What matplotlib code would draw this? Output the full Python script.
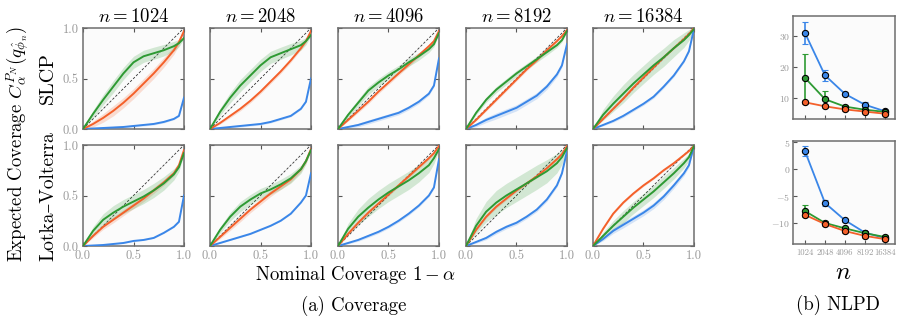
import numpy as np
import matplotlib
matplotlib.use("Agg")
import matplotlib.pyplot as plt

plt.rcParams['font.family'] = ['cmr10', 'DejaVu Serif']
plt.rcParams['mathtext.fontset'] = 'cm'
plt.rcParams['axes.formatter.use_mathtext'] = True
plt.rcParams['axes.unicode_minus'] = True

# ---------------- data ----------------
sizes = [1024, 2048, 4096, 8192, 16384]
size_labels = ["1024", "2048", "4096", "8192", "16384"]
rows = ["SLCP", "Lotka–Volterra"]
nominal = [0.0, 0.1, 0.2, 0.3, 0.4, 0.5, 0.6, 0.7, 0.8, 0.9, 0.95, 1.0]

# SLCP coverage curves (per n)
slcp_blue = [
    [0, .005, .01, .015, .02, .03, .04, .05, .07, .10, .13, .31],
    [0, .01, .02, .03, .04, .05, .07, .10, .13, .20, .27, .50],
    [0, .02, .04, .07, .10, .13, .16, .21, .27, .35, .43, .70],
    [0, .04, .09, .13, .17, .21, .27, .33, .42, .54, .63, .84],
    [0, .04, .08, .13, .19, .25, .32, .42, .53, .67, .77, .99],
]
slcp_orange = [
    [0, .05, .11, .18, .26, .35, .45, .55, .66, .78, .86, .97],
    [0, .06, .13, .20, .28, .37, .47, .57, .68, .80, .87, .97],
    [0, .09, .18, .27, .37, .46, .55, .64, .73, .82, .87, .97],
    [0, .09, .19, .29, .39, .49, .59, .68, .78, .87, .92, .98],
    [0, .10, .20, .30, .41, .51, .61, .71, .80, .89, .94, 1.0],
]
slcp_green = [
    [0, .15, .29, .42, .55, .66, .72, .75, .78, .82, .85, .90],
    [0, .17, .31, .43, .53, .63, .71, .75, .79, .83, .87, .93],
    [0, .14, .26, .38, .46, .53, .59, .66, .72, .79, .84, .95],
    [0, .16, .29, .39, .47, .55, .62, .69, .76, .83, .88, .97],
    [0, .14, .25, .35, .45, .54, .63, .71, .80, .88, .93, .99],
]
# Lotka-Volterra coverage curves (per n)
lv_blue = [
    [0, .005, .01, .02, .03, .05, .06, .08, .13, .19, .24, .50],
    [0, .03, .06, .09, .12, .16, .20, .25, .32, .43, .50, .72],
    [0, .03, .06, .10, .14, .19, .25, .32, .40, .50, .58, .86],
    [0, .04, .08, .14, .19, .23, .29, .36, .46, .60, .72, .94],
    [0, .07, .15, .21, .27, .33, .40, .49, .60, .72, .80, .99],
]
lv_orange = [
    [0, .10, .19, .26, .33, .40, .47, .55, .63, .72, .80, .95],
    [0, .09, .18, .27, .36, .44, .52, .59, .66, .76, .84, .96],
    [0, .12, .23, .33, .42, .51, .60, .69, .78, .87, .92, .99],
    [0, .16, .29, .39, .47, .55, .62, .69, .77, .86, .91, .99],
    [0, .17, .32, .43, .52, .60, .67, .75, .82, .90, .94, .99],
]
lv_green = [
    [0, .15, .26, .33, .39, .44, .49, .55, .62, .71, .78, .92],
    [0, .16, .29, .39, .46, .52, .56, .61, .67, .76, .84, .95],
    [0, .17, .29, .38, .46, .53, .59, .65, .72, .80, .87, .96],
    [0, .20, .34, .43, .50, .56, .62, .68, .74, .82, .88, .97],
    [0, .10, .20, .29, .38, .46, .54, .63, .72, .82, .88, .99],
]
# band half-widths (blue, orange, green) per n
slcp_band = [[.01, .05, .06], [.01, .02, .06], [.02, .02, .04], [.03, .015, .03], [.015, .01, .09]]
lv_band = [[.005, .03, .07], [.005, .03, .05], [.015, .015, .09], [.02, .015, .12], [.03, .01, .06]]
band_profile = [0, .6, .85, 1, 1, 1, 1, 1, .95, .8, .6, .1]

# NLPD values (mean, error) for blue, orange, green
nlpd_slcp_blue = [31.0, 17.3, 11.3, 7.8, 5.7]
nlpd_slcp_blue_err = [3.5, 1.8, 0.5, 0.8, 0.5]
nlpd_slcp_orange = [8.6, 7.3, 6.3, 5.6, 4.9]
nlpd_slcp_orange_err = [0.5, 0.4, 0.4, 0.4, 0.3]
nlpd_slcp_green = [16.5, 9.6, 7.2, 6.2, 5.5]
nlpd_slcp_green_err = [7.7, 2.5, 0.5, 0.5, 0.5]

nlpd_lv_blue = [3.3, -6.3, -9.5, -11.8, -12.8]
nlpd_lv_blue_err = [0.9, 0.6, 0.3, 0.3, 0.3]
nlpd_lv_orange = [-8.5, -10.2, -11.5, -12.4, -13.0]
nlpd_lv_orange_err = [0.3, 0.3, 0.3, 0.3, 0.3]
nlpd_lv_green = [-7.8, -10.0, -11.0, -11.9, -12.6]
nlpd_lv_green_err = [1.1, 0.3, 0.3, 0.3, 0.3]

# ---------------- style ----------------
C_BLUE = '#3a86e8'
C_ORANGE = '#f4602a'
C_GREEN = '#2e9a33'
SPINE = '#6e6e6e'
TICKC = '#999999'
FACE = '#fbfbfb'

W, H = 903, 324
fig = plt.figure(figsize=(W / 100, H / 100), dpi=100)


def ax_px(left, top, right, bottom):
    return fig.add_axes([left / W, 1 - bottom / H, (right - left) / W, (bottom - top) / H])


def style_axes(ax, labelsize=9):
    ax.set_facecolor(FACE)
    for s in ax.spines.values():
        s.set_color(SPINE)
        s.set_linewidth(1.1)
    ax.tick_params(direction='in', top=True, right=True, length=3, width=0.8,
                   color='#555555', labelcolor=TICKC, labelsize=labelsize, pad=2)


col_lefts = [83, 210, 338, 466, 593]
col_w = 101
row_tb = [(28, 129), (145, 246)]

x = np.array(nominal)
prof = np.array(band_profile)
data = [(slcp_blue, slcp_orange, slcp_green, slcp_band),
        (lv_blue, lv_orange, lv_green, lv_band)]

for r, (blues, oranges, greens, bands) in enumerate(data):
    top, bot = row_tb[r]
    for c in range(5):
        ax = ax_px(col_lefts[c], top, col_lefts[c] + col_w, bot)
        style_axes(ax)
        ax.plot([0, 1], [0, 1], ls=(0, (3, 2)), color='k', lw=0.6, alpha=0.8, zorder=1)
        for vals, col, bw in [(blues[c], C_BLUE, bands[c][0]),
                              (oranges[c], C_ORANGE, bands[c][1]),
                              (greens[c], C_GREEN, bands[c][2])]:
            v = np.array(vals)
            ax.fill_between(x, v - bw * prof, v + bw * prof, color=col, alpha=0.2, lw=0, zorder=2)
            ax.plot(x, v, color=col, lw=1.4, zorder=3)
        ax.set_xlim(0, 1)
        ax.set_ylim(0, 1)
        ax.set_xticks([0, 0.5, 1])
        ax.set_yticks([0, 0.5, 1])
        if c == 0:
            ax.set_yticklabels(['0.0', '0.5', '1.0'])
            ax.tick_params(axis='y', pad=3)
        else:
            ax.set_yticklabels([])
        if r == 1:
            ax.set_xticklabels(['0.0', '0.5', '1.0'])
            ax.tick_params(axis='x', pad=2.5)
        else:
            ax.set_xticklabels([])
        if r == 0:
            ax.set_title(r'$n = %d$' % sizes[c], fontsize=13.5, pad=4)

# NLPD panels
xi = np.arange(len(sizes))
nlpd = [
    ((16, 119), (3.2, 36.5), [10, 20, 30],
     [(nlpd_slcp_blue, nlpd_slcp_blue_err, C_BLUE),
      (nlpd_slcp_green, nlpd_slcp_green_err, C_GREEN),
      (nlpd_slcp_orange, nlpd_slcp_orange_err, C_ORANGE)]),
    ((141, 244), (-13.9, 5.2), [-10, -5, 0, 5],
     [(nlpd_lv_blue, nlpd_lv_blue_err, C_BLUE),
      (nlpd_lv_green, nlpd_lv_green_err, C_GREEN),
      (nlpd_lv_orange, nlpd_lv_orange_err, C_ORANGE)]),
]
for i, ((top, bot), ylim, yt, series) in enumerate(nlpd):
    ax = ax_px(793, top, 895, bot)
    style_axes(ax, labelsize=7)
    ax.tick_params(top=False, right=False)
    for vals, err, col in series:
        ax.errorbar(xi, vals, yerr=err, color=col, lw=1.3, ecolor=col, elinewidth=1.2,
                    capsize=2, capthick=1, marker='o', ms=4.5, mfc=col, mec='k', mew=0.8,
                    zorder=3)
    ax.set_xlim(-0.6, 4.5)
    ax.set_ylim(*ylim)
    ax.set_yticks(yt)
    ax.set_xticks(xi)
    if i == 1:
        ax.set_xticklabels(size_labels, fontsize=6.3)
        ax.tick_params(axis='x', pad=3)
    else:
        ax.set_xticklabels([])

# labels
fig.text(48 / W, 1 - 78 / H, rows[0], rotation=90, ha='center', va='center', fontsize=14.5)
fig.text(48 / W, 1 - 196 / H, rows[1], rotation=90, ha='center', va='center', fontsize=14)
fig.text(18 / W, 1 - 144 / H, r'Expected Coverage $C_\alpha^{P_N}(q_{\hat{\phi}_n})$',
         rotation=90, ha='center', va='center', fontsize=13.5)
fig.text(356 / W, 1 - 275 / H, r'Nominal Coverage $1-\alpha$', ha='center', va='center', fontsize=13.5)
fig.text(354 / W, 1 - 306 / H, '(a) Coverage', ha='center', va='center', fontsize=13.5)
fig.text(838 / W, 1 - 305 / H, '(b) NLPD', ha='center', va='center', fontsize=13.5)
fig.text(843 / W, 1 - 273 / H, r'$n$', ha='center', va='center', fontsize=18)

fig.savefig('out.png', dpi=100)
